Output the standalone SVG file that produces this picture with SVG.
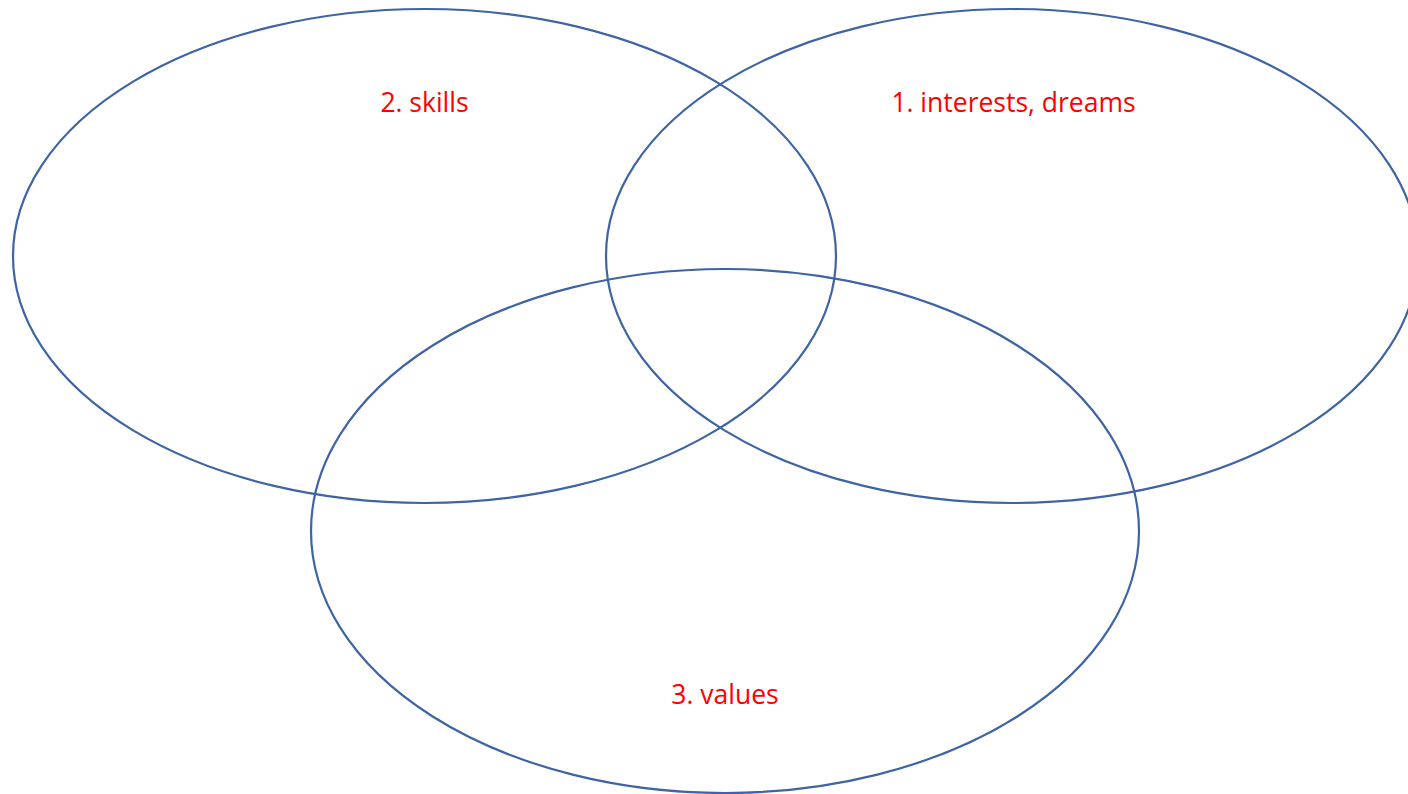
<svg xmlns="http://www.w3.org/2000/svg" width="1408" height="794" viewBox="0 0 1408 794">
<style>
.c{fill:none;stroke:#3e64a4;stroke-width:2.2}
.t{font-family:"Open Sans","Liberation Sans",sans-serif;font-size:26.5px;fill:#ff0000;text-anchor:middle}
</style>
<rect width="1408" height="794" fill="#ffffff"/>
<g id="skills"><ellipse class="c" cx="424.5" cy="256" rx="411.5" ry="247"/><text class="t" x="424.5" y="112">2. skills</text></g>
<g id="interests"><ellipse class="c" cx="1012" cy="256" rx="406" ry="247"/><text class="t" x="1013.5" y="112">1. interests, dreams</text></g>
<g id="values"><ellipse class="c" cx="725" cy="531" rx="414" ry="262"/><text class="t" x="725" y="704">3. values</text></g>
<g id="connectors"/>
</svg>
